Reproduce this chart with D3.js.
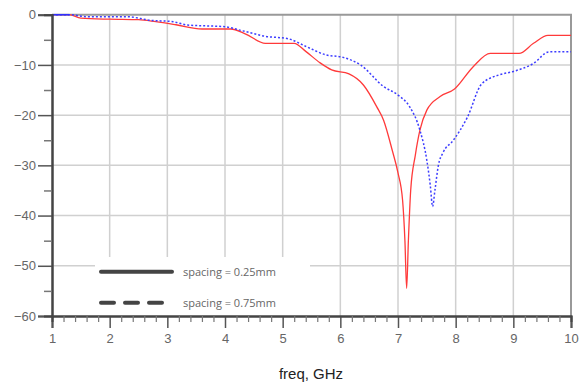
<!DOCTYPE html>
<html>
<head>
<meta charset="utf-8">
<script src="https://cdn.jsdelivr.net/npm/d3@7"></script>
<style>
  body { margin: 0; background: #fff; }
  svg { display: block; font-family: "Liberation Sans", Arial, sans-serif; }
</style>
</head>
<body>
<svg id="chart" width="579" height="383"></svg>
<script>
// Series (freq in GHz, value in dB)
const redFreq = [1, 1.3, 1.5, 2.0, 2.5, 2.8, 3.15, 3.6, 4.1, 4.35, 4.7, 5.2, 5.4, 5.65, 5.85, 6.15, 6.4, 6.63, 6.75, 6.9, 7.0, 7.08, 7.12, 7.15, 7.18, 7.22, 7.3, 7.38, 7.5, 7.73, 7.98, 8.3, 8.6, 9.1, 9.35, 9.6, 10];
const redVal = [0, 0, -0.7, -0.9, -1.0, -1.4, -2.0, -2.85, -2.85, -3.8, -5.7, -5.7, -7.3, -9.6, -11, -11.8, -14, -18.3, -21, -27, -31.5, -37, -45, -54.5, -45, -35, -28, -23, -19, -16.3, -14.8, -10.4, -7.7, -7.7, -5.7, -4.1, -4.1];

const blueFreq = [1, 1.3, 1.6, 2.3, 2.7, 3.1, 3.35, 4.0, 4.3, 4.7, 5.1, 5.4, 5.75, 6.05, 6.35, 6.75, 7.0, 7.2, 7.38, 7.5, 7.56, 7.6, 7.64, 7.7, 7.78, 7.96, 8.2, 8.45, 8.75, 9.0, 9.35, 9.62, 10];
const blueVal = [0, 0, -0.4, -0.4, -1.1, -1.4, -2.05, -2.4, -3.2, -4.3, -4.8, -6.3, -8, -8.5, -10, -14.3, -16, -18.3, -23, -29, -34, -38.2, -35, -30, -27.5, -25, -20.5, -13.8, -12, -11.3, -9.7, -7.4, -7.4];

const xTicks = [1, 2, 3, 4, 5, 6, 7, 8, 9, 10];
const yTicks = [0, -10, -20, -30, -40, -50, -60];
const legendLabels = ['spacing = 0.25mm', 'spacing = 0.75mm'];
const xLabel = 'freq, GHz';

const svg = d3.select('#chart');

const x = d3.scaleLinear().domain([1, 10]).range([52, 571]);
const y = d3.scaleLinear().domain([0, -60]).range([14.7, 316]);

// Grid
const grid = svg.append('g').attr('class', 'grid');
grid.selectAll('.vgrid').data(xTicks.slice(1, -1)).enter().
  append('line').
    attr('x1', (d) => x(d)).attr('x2', (d) => x(d)).
    attr('y1', y(0)).attr('y2', y(-60)).
    attr('stroke', '#d0d0d0').attr('stroke-width', 1.5);
grid.selectAll('.hgrid').data(yTicks.slice(1, -1)).enter().
  append('line').
    attr('x1', x(1)).attr('x2', x(10)).
    attr('y1', (d) => y(d)).attr('y2', (d) => y(d)).
    attr('stroke', '#d0d0d0').attr('stroke-width', 1.5);

// Frame (top and right)
svg.append('path').
  attr('d', `M${x(1)},${y(0)} H${x(10)} V${y(-60)}`).
  attr('fill', 'none').attr('stroke', '#999').attr('stroke-width', 2);

// Legend background hides grid
svg.append('rect').
  attr('x', 95).attr('y', 257).attr('width', 215).attr('height', y(-60) - 257).
  attr('fill', '#fff');

// Curves
const line = d3.line().
  x((d) => x(d[0])).
  y((d) => y(d[1])).
  curve(d3.curveMonotoneX);

svg.append('path').
  datum(d3.zip(redFreq, redVal)).
  attr('d', line).
  attr('fill', 'none').attr('stroke', '#ff3a3a').attr('stroke-width', 1.3);

svg.append('path').
  datum(d3.zip(blueFreq, blueVal)).
  attr('d', line).
  attr('fill', 'none').attr('stroke', '#3d3dff').attr('stroke-width', 1.5).
  attr('stroke-dasharray', '2,2');

// Solid blue start segment drawn on top
svg.append('path').
  datum(d3.zip(blueFreq.slice(0, 2), blueVal.slice(0, 2))).
  attr('d', line).
  attr('fill', 'none').attr('stroke', '#3030ff').attr('stroke-width', 1.5);

// Axes
const xAxis = svg.append('g').attr('transform', `translate(0,${y(-60)})`).
  call(d3.axisBottom(x).tickValues(xTicks).tickSize(12).tickPadding(6).tickFormat(d3.format('d')));
const xMinor = svg.append('g').attr('transform', `translate(0,${y(-60)})`).
  call(d3.axisBottom(x).tickValues(d3.range(1, 10.01, 0.2).filter((d) => Math.abs(d - Math.round(d)) > 0.01)).
    tickSize(6).tickFormat(''));
const yAxis = svg.append('g').attr('transform', `translate(${x(1)},0)`).
  call(d3.axisLeft(y).tickValues(yTicks).tickSize(14).tickPadding(2).tickFormat(d3.format('d')));
const yMinor = svg.append('g').attr('transform', `translate(${x(1)},0)`).
  call(d3.axisLeft(y).tickValues(d3.range(-5, -60, -10)).tickSize(8).tickFormat(''));

[xAxis, xMinor, yAxis, yMinor].forEach((g) => {
  g.select('.domain').attr('stroke', '#444').attr('stroke-width', 2);
  g.selectAll('.tick line').attr('stroke', '#555').attr('stroke-width', 1.5);
  g.selectAll('.tick text').attr('fill', '#666').attr('font-size', 13);
});
xMinor.selectAll('.tick line').attr('stroke', '#777').attr('stroke-width', 1.2);
yMinor.selectAll('.tick line').attr('stroke', '#777');

svg.append('text').
  attr('x', 311).attr('y', 379).
  attr('text-anchor', 'middle').
  attr('font-size', 15).attr('fill', '#222').
  text(xLabel);

// Legend
const legend = svg.append('g').attr('class', 'legend');
legend.selectAll('line').data(legendLabels).enter().
  append('line').
    attr('x1', 101).attr('x2', 172).
    attr('y1', (d, i) => 271.7 + i * 31).attr('y2', (d, i) => 271.7 + i * 31).
    attr('stroke', '#444').attr('stroke-width', 4).
    attr('stroke-linecap', 'round').
    attr('stroke-dasharray', (d, i) => i ? '13,11' : null);
legend.selectAll('text').data(legendLabels).enter().
  append('text').
    attr('x', 183).
    attr('y', (d, i) => 275.5 + i * 31).
    attr('font-family', '"Open Sans", sans-serif').
    attr('font-size', 11).attr('fill', '#666').
    text((d) => d);
</script>
</body>
</html>
